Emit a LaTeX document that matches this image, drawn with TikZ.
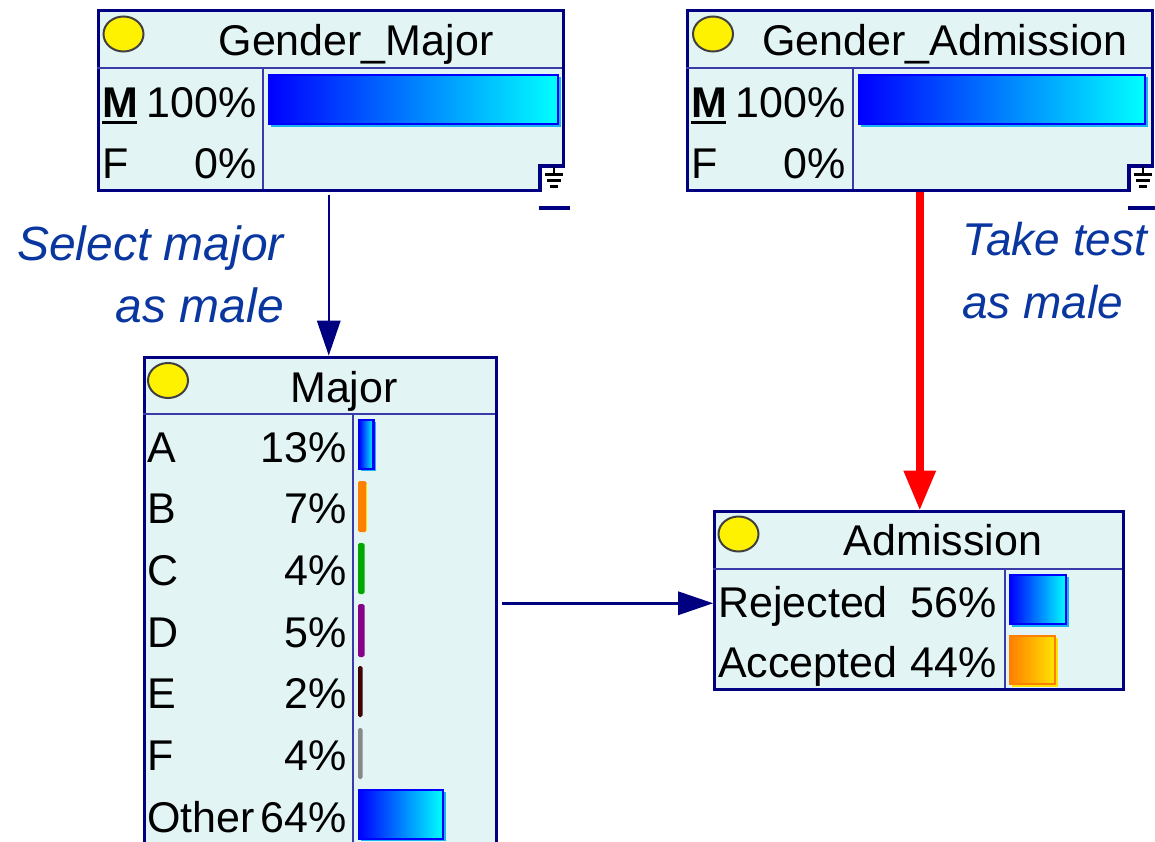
\documentclass[tikz,border=0pt]{standalone}
\usepackage{fontspec}
\setmainfont{Liberation Sans}
\usetikzlibrary{arrows.meta,calc}

\definecolor{netbg}{HTML}{E2F4F4}
\definecolor{navy}{HTML}{000080}
\definecolor{sepline}{HTML}{3A3AA8}
\definecolor{notecol}{HTML}{0A36A0}
\definecolor{orangeA}{HTML}{FF8000}
\definecolor{yellowB}{HTML}{FFE400}
\definecolor{greenbar}{HTML}{00A800}
\definecolor{purplebar}{HTML}{880088}
\definecolor{brownbar}{HTML}{400000}
\definecolor{graybar}{HTML}{888888}

\newcommand{\boxfont}{\fontsize{43}{50}\selectfont}

\tikzset{
  netnode/.style={draw=navy, line width=3pt, fill=netbg, rectangle,
    inner sep=0pt, anchor=north west},
  sepln/.style={draw=sepline, line width=1.3pt},
  lamp/.style={fill=yellow, draw=black!75, line width=2pt},
  titletxt/.style={font=\boxfont, anchor=base, inner sep=0pt},
  statetxt/.style={font=\boxfont, anchor=base west, inner sep=0pt},
  pcttxt/.style={font=\boxfont, anchor=base east, inner sep=0pt},
  bluebar/.style={left color=blue, right color=cyan, draw=blue, line width=2.5pt},
  orangebar/.style={left color=orangeA, right color=yellowB, draw=orangeA, line width=2.5pt},
  thinbar/.style={fill=#1, draw=#1, line width=2pt, rounded corners=1pt},
  glow/.style={fill=cyan!90!white, draw=none},
  link/.style={draw=navy, line width=2.5pt,
    -{Triangle[length=35pt,width=24pt,line width=0pt]}},
  redlink/.style={draw=red, line width=8pt,
    -{Triangle[length=39pt,width=33pt,line width=0pt]}},
  note/.style={font=\fontsize{#1}{54}\selectfont\itshape, text=notecol, inner sep=0pt},
  note/.default=46,
  groundmark/.pic={
    \fill[white] (-25,-26) rectangle (0,0);
    \draw[navy, line width=4pt] (-25,0) -- (-25,-26) -- (0,-26);
    \draw[black, line width=2.5pt] (-11,-24.5) -- (-11,-17.5);
    \draw[black, line width=3pt] (-20,-17.5) -- (-2,-17.5)
      (-18,-11.5) -- (-4,-11.5) (-15,-5.5) -- (-7,-5.5);
    \draw[navy, line width=3.5pt] (-26,16.5) -- (5,16.5);
  }
}

\begin{document}
\begin{tikzpicture}[x=1pt,y=-1pt]
\useasboundingbox (0,0) rectangle (1155,841);
\begin{scope}
\clip (0,0) rectangle (1155,841);

% ---- Gender_Major ----
\node[netnode, minimum width=465.5pt, minimum height=180pt] (gm) at (96.5,8.5) {};
\draw[sepln] (96.5,68) -- (562,68) (263,68) -- (263,188.5);
\draw[lamp] (123.5,34) ellipse [x radius=20, y radius=17.5];
\node[titletxt] (gmt) at (356,55) {Gender\_Major};
\node[statetxt] (gmm) at (102,117) {\bfseries M};
\draw[black, line width=3.5pt] (102,122.5) -- (137,122.5);
\node[pcttxt] (gmmp) at (257,117) {100\%};
\node[statetxt] (gmf) at (102,178) {F};
\node[pcttxt] (gmfp) at (257,178) {0\%};
\fill[glow] (271,77) rectangle (561,126.5);
\path[bluebar] (269,75) rectangle (558,124);
\pic at (gm.south east) {groundmark};

% ---- Gender_Admission ----
\node[netnode, minimum width=465.5pt, minimum height=180pt] (ga) at (685.5,8.5) {};
\draw[sepln] (685.5,68) -- (1151,68) (853,68) -- (853,188.5);
\draw[lamp] (713,34) ellipse [x radius=20, y radius=17.5];
\node[titletxt] (gat) at (945,55) {Gender\_Admission};
\node[statetxt] (gam) at (691,117) {\bfseries M};
\draw[black, line width=3.5pt] (691,122.5) -- (726,122.5);
\node[pcttxt] (gamp) at (846,117) {100\%};
\node[statetxt] (gaf) at (691,178) {F};
\node[pcttxt] (gafp) at (846,178) {0\%};
\fill[glow] (861,77) rectangle (1148,126.5);
\path[bluebar] (859,75) rectangle (1145,124);
\pic at (ga.south east) {groundmark};

% ---- Major ----
\node[netnode, minimum width=352pt, minimum height=520pt] (mj) at (142.5,355.5) {};
\draw[sepln] (142.5,414) -- (494.5,414) (353,414) -- (353,880);
\draw[lamp] (168,380.5) ellipse [x radius=20, y radius=17.5];
\node[titletxt] (mjt) at (344,402) {Major};
\foreach \lab/\pct/\yy [count=\i] in {A/13/462, B/7/523, C/4/585, D/5/647,
    E/2/708, F/4/770, Other/64/832}{
  \node[statetxt] (mjs\i) at (147,\yy) {\lab};
  \node[pcttxt] (mjp\i) at (347,\yy) {\pct\%};
}
\fill[glow] (361,422) rectangle (376,471);
\path[bluebar] (359,420) rectangle (373.5,469);
\path[thinbar=orangeA] (359,482) rectangle (365.5,531);
\draw[yellowB, line width=1pt] (366.5,484) -- (366.5,531);
\path[thinbar=greenbar] (359,544) rectangle (363.5,593);
\path[thinbar=purplebar] (359,605) rectangle (363.5,656);
\path[thinbar=brownbar] (359,667) rectangle (361.5,716);
\path[thinbar=graybar] (359,729) rectangle (361.5,778);
\fill[glow] (361,792) rectangle (446,841);
\path[bluebar] (359,790) rectangle (443,839);

% ---- Admission ----
\node[netnode, minimum width=408.5pt, minimum height=178.5pt] (ad) at (713,509.5) {};
\draw[sepln] (713,569) -- (1121.5,569) (1005,569) -- (1005,688);
\draw[lamp] (738.5,534) ellipse [x radius=20, y radius=17.5];
\node[titletxt] (adt) at (943,555) {Admission};
\node[statetxt] (ads1) at (718,617) {Rejected};
\node[pcttxt] (adp1) at (997,617) {56\%};
\node[statetxt] (ads2) at (718,677) {Accepted};
\node[pcttxt] (adp2) at (997,677) {44\%};
\fill[glow] (1012,577) rectangle (1069,626.5);
\path[bluebar] (1010,575) rectangle (1066,624);
\fill[yellowB] (1012,638) rectangle (1058,686.5);
\path[orangebar] (1010,636) rectangle (1055,684);

% ---- links ----
\draw[link] ([xshift=-2pt,yshift=-3pt]gm.south) -- ([xshift=-2pt]gm.south |- mj.north);
\draw[redlink] (ga.south) -- (ga.south |- ad.north);
\draw[link] ($(ad.west -| mj.east)+(4.5,3)$) -- ($(ad.west)+(0,3)$);

% ---- annotations ----
\node[note=48, anchor=base east] (n1a) at (284,260) {Select major};
\node[note=48, anchor=base east] (n1b) at (284,322) {as male};
\node[note, anchor=base west] (n2a) at (962,255) {Take test};
\node[note, anchor=base west] (n2b) at (962,318) {as male};
\end{scope}
\end{tikzpicture}
\end{document}
